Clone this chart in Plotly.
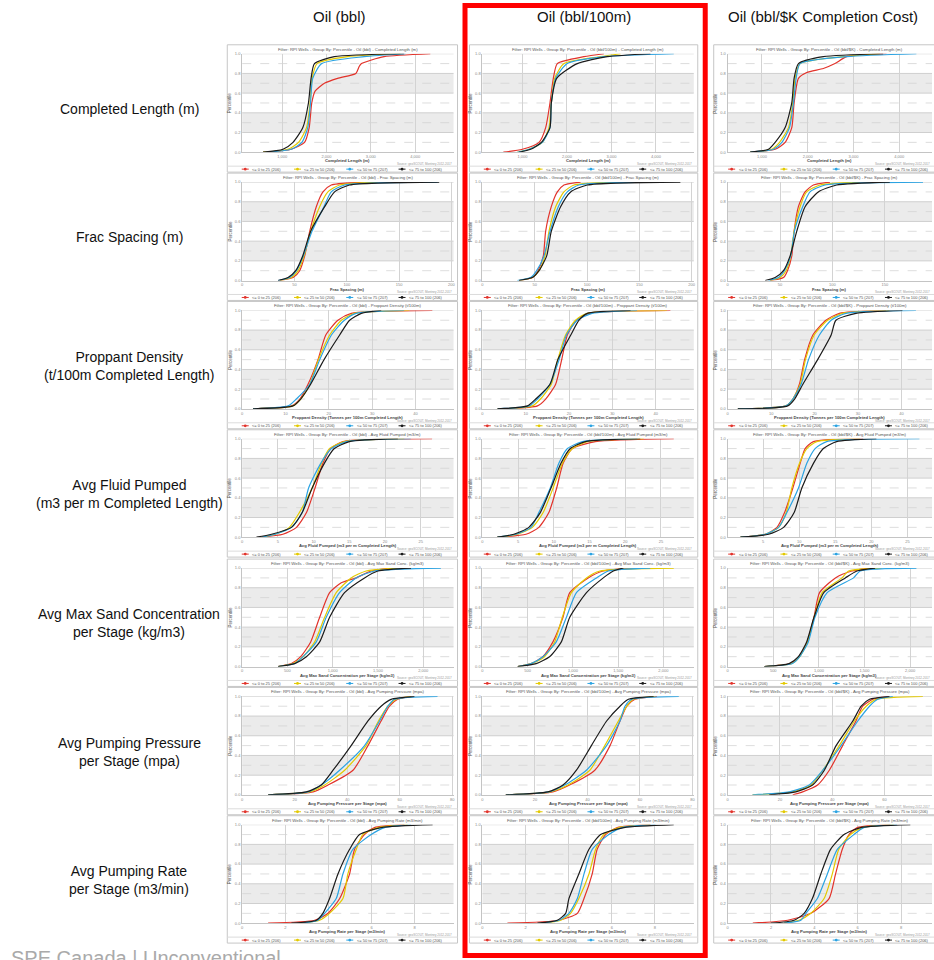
import plotly.graph_objects as go

W, H = 934, 960
FONT = "Liberation Sans, Arial, Helvetica, sans-serif"

# ---------------------------------------------------------------------------
# Labels
# ---------------------------------------------------------------------------
COLUMNS = ["Oil (bbl)", "Oil (bbl/100m)", "Oil (bbl/$K Completion Cost)"]
COLUMNS_SHORT = ["Oil (bbl)", "Oil (bbl/100m)", "Oil (bbl/$K)"]
ROW_LABELS = [
    "Completed Length (m)",
    "Frac Spacing (m)",
    "Proppant Density<br>(t/100m Completed Length)",
    "Avg Fluid Pumped<br>(m3 per m Completed Length)",
    "Avg Max Sand Concentration<br>per Stage (kg/m3)",
    "Avg Pumping Pressure<br>per Stage (mpa)",
    "Avg Pumping Rate<br>per Stage (m3/min)",
]
X_TITLES = [
    "Completed Length (m)",
    "Frac Spacing (m)",
    "Proppant Density (Tonnes per 100m Completed Length)",
    "Avg Fluid Pumped (m3 per m Completed Length)",
    "Avg Max Sand Concentration per Stage (kg/m3)",
    "Avg Pumping Pressure per Stage (mpa)",
    "Avg Pumping Rate per Stage (m3/min)",
]
METRICS_SHORT = [
    "Completed Length (m)",
    "Frac Spacing (m)",
    "Proppant Density (t/100m)",
    "Avg Fluid Pumped (m3/m)",
    "Avg Max Sand Conc. (kg/m3)",
    "Avg Pumping Pressure (mpa)",
    "Avg Pumping Rate (m3/min)",
]
NOTE = "Source: geoSCOUT, Montney 2012-2017"
GROUP_LABELS = ["<= 0 to 25 (206)", "<= 25 to 50 (206)", "<= 50 to 75 (207)", "<= 75 to 100 (206)"]
GROUP_COLORS = ["#e2332b", "#e3c900", "#2ba3e2", "#1b1b1b"]

# cumulative percentile levels at which each curve is sampled
PCT = [0, 0.03, 0.10, 0.25, 0.50, 0.75, 0.90, 0.97, 1.0]

# x tick values per metric row
TICKS_LEN = [1000, 2000, 3000, 4000]
TICKS_FRAC = [0, 50, 100, 150, 200]
TICKS_PROP = [0, 10, 20, 30, 40]
TICKS_FLUID = [0, 5, 10, 15, 20, 25]
TICKS_SAND = [0, 500, 1000, 1500, 2000]
TICKS_PRES = [0, 20, 40, 60, 80]
TICKS_RATE = [0, 2, 4, 6, 8]

# ---------------------------------------------------------------------------
# Cumulative distributions (x value at each PCT level), groups in legend order
# ---------------------------------------------------------------------------
# Completed Length (m)
P_LEN_BBL_RED = [0, 0.03, 0.10, 0.25, 0.50, 0.62, 0.70, 0.75, 0.80, 0.87, 0.90, 0.97, 1.0]
LEN_BBL = [
    [683, 1205, 1505, 1610, 1668, 1743, 1953, 2250, 2662, 2737, 2790, 3297, 4342],
    [570, 1130, 1370, 1550, 1630, 1677, 1787, 2475, 3670],
    [645, 1205, 1445, 1578, 1640, 1690, 1893, 2850, 3780],
    [570, 1020, 1245, 1467, 1593, 1653, 1729, 2176, 3745],
]
LEN_PER100 = [
    [571, 998, 1372, 1521, 1618, 1693, 1783, 2381, 2830],
    [885, 1147, 1446, 1596, 1648, 1723, 1933, 2755, 3204],
    [885, 1147, 1446, 1618, 1648, 1746, 2007, 2830, 4401],
    [923, 1185, 1424, 1618, 1648, 1768, 2232, 2905, 3877],
]
P_LEN_COST_RED = [0, 0.03, 0.10, 0.25, 0.50, 0.75, 0.81, 0.85, 0.90, 0.97, 1.0]
LEN_COST = [
    [746, 1290, 1508, 1653, 1704, 1799, 1980, 2343, 2597, 2851, 3723],
    [746, 1218, 1385, 1581, 1675, 1726, 1835, 2779, 3577],
    [746, 1254, 1436, 1603, 1690, 1748, 1835, 2851, 4376],
    [746, 1145, 1290, 1508, 1653, 1704, 1799, 2343, 3650],
]

# Frac Spacing (m)
FRAC_BBL = [
    [35.9, 48.6, 54.9, 59.7, 64.5, 70.8, 77.2, 85.1, 120.0],
    [35.9, 47.0, 53.4, 59.1, 65.4, 74.0, 81.9, 93.1, 129.6],
    [34.3, 45.4, 51.8, 58.4, 66.7, 78.1, 85.1, 97.8, 186.7],
    [34.3, 43.8, 51.1, 57.8, 65.4, 78.8, 88.3, 102.6, 188.3],
]
FRAC_PER100 = [
    [35.0, 47.7, 53.1, 58.2, 60.4, 65.8, 71.6, 77.9, 93.8],
    [35.0, 47.7, 54.1, 59.8, 63.6, 70.0, 77.9, 87.5, 132.0],
    [33.4, 46.1, 51.8, 58.8, 64.6, 72.5, 81.1, 92.2, 160.6],
    [35.0, 47.7, 54.1, 61.4, 65.8, 74.7, 84.3, 100.2, 189.2],
]
FRAC_COST = [
    [40.6, 53.3, 57.1, 61.2, 63.4, 67.5, 73.9, 81.8, 97.6],
    [40.6, 50.1, 55.8, 60.2, 63.4, 69.1, 75.4, 88.1, 126.2],
    [39.0, 48.5, 54.2, 60.2, 63.7, 71.6, 78.6, 92.9, 186.4],
    [35.8, 45.3, 53.3, 59.6, 65.9, 73.9, 86.5, 104.0, 154.7],
]

# Proppant Density (t/100m)
PROP_BBL = [
    [2.5, 11.4, 13.3, 15.2, 17.5, 19.3, 22.1, 25.2, 43.9],
    [2.5, 11.7, 13.5, 15.6, 17.6, 20.2, 22.9, 25.9, 38.6],
    [2.5, 10.6, 12.5, 15.6, 17.9, 20.6, 23.6, 26.3, 37.4],
    [2.5, 11.7, 13.5, 15.8, 18.9, 22.5, 24.8, 27.5, 32.1],
]
PROP_PER100 = [
    [3.5, 12.7, 14.6, 16.9, 18.3, 19.6, 21.7, 24.6, 43.4],
    [3.5, 11.5, 13.4, 15.9, 17.4, 19.2, 21.5, 24.2, 42.6],
    [3.5, 10.8, 12.7, 15.6, 17.7, 19.4, 21.9, 25.3, 35.7],
    [3.5, 10.4, 12.3, 15.6, 17.4, 20.4, 22.3, 24.2, 34.2],
]
PROP_COST = [
    [2.35, 13.4, 15.0, 16.5, 17.7, 19.6, 22.6, 25.7, 36.4],
    [2.35, 13.4, 15.0, 16.7, 17.9, 19.9, 23.0, 26.4, 37.2],
    [2.35, 13.4, 15.0, 16.9, 18.6, 21.1, 23.8, 27.2, 43.3],
    [2.35, 13.8, 15.4, 17.3, 20.7, 23.8, 24.9, 29.5, 40.2],
]

# Avg Fluid Pumped (m3/m)
FLUID_BBL = [
    [2.7, 5.7, 7.6, 9.0, 10.2, 11.3, 12.4, 14.1, 26.6],
    [2.7, 4.6, 6.6, 8.0, 9.8, 11.1, 12.2, 14.3, 22.7],
    [2.7, 4.6, 6.9, 8.4, 9.3, 11.0, 12.5, 14.6, 23.6],
    [2.0, 4.1, 6.9, 8.4, 9.8, 11.5, 12.9, 15.0, 21.8],
]
FLUID_PER100 = [
    [2.1, 6.1, 7.9, 9.3, 10.4, 11.3, 12.6, 15.8, 26.8],
    [2.1, 4.9, 7.0, 8.5, 9.9, 11.2, 12.6, 14.7, 22.6],
    [2.1, 4.7, 6.8, 7.9, 9.5, 10.7, 11.9, 14.0, 21.7],
    [2.1, 4.4, 6.5, 8.1, 9.6, 11.0, 12.3, 14.4, 22.1],
]
FLUID_COST = [
    [1.88, 5.32, 6.93, 7.98, 9.13, 10.14, 10.83, 11.98, 18.86],
    [1.88, 5.32, 7.16, 8.21, 8.99, 10.05, 11.06, 12.44, 18.40],
    [1.88, 5.32, 7.16, 8.30, 9.91, 11.06, 12.21, 13.81, 26.66],
    [1.88, 5.78, 7.85, 9.31, 10.37, 11.98, 13.35, 15.19, 20.70],
]

# Avg Max Sand Concentration per Stage (kg/m3)
P_SAND_BBL_RED = [0, 0.03, 0.10, 0.25, 0.50, 0.75, 0.85, 0.90, 0.97, 1.0]
SAND_BBL = [
    [397, 544, 646, 757, 856, 966, 1095, 1260, 1425, 1646],
    [397, 562, 672, 801, 911, 1039, 1205, 1370, 1719],
    [397, 580, 672, 819, 929, 1076, 1260, 1462, 2196],
    [397, 580, 709, 856, 966, 1131, 1352, 1499, 1866],
]
SAND_PER100 = [
    [390, 538, 668, 779, 890, 965, 1169, 1336, 1707],
    [390, 538, 686, 798, 883, 983, 1150, 1299, 2115],
    [390, 538, 668, 816, 928, 1039, 1261, 1391, 1855],
    [390, 594, 742, 872, 965, 1150, 1336, 1447, 1558],
]
SAND_COST = [
    [402, 692, 783, 873, 946, 1007, 1181, 1362, 1543],
    [402, 703, 790, 877, 949, 1036, 1254, 1326, 1688],
    [402, 710, 790, 884, 957, 1091, 1380, 1453, 2069],
    [402, 674, 775, 866, 946, 1054, 1290, 1417, 1616],
]

# Avg Pumping Pressure per Stage (mpa)
PRES_BBL = [
    [9.9, 27.0, 32.7, 42.2, 47.9, 52.9, 56.1, 59.2, 64.3],
    [9.9, 25.7, 31.4, 39.0, 47.2, 51.9, 55.5, 58.6, 64.3],
    [9.9, 25.1, 30.1, 37.1, 46.6, 52.3, 55.5, 58.0, 74.4],
    [9.9, 24.4, 30.1, 34.6, 41.5, 47.9, 52.9, 56.7, 65.6],
]
PRES_PER100 = [
    [8.9, 26.8, 33.2, 42.8, 48.6, 52.4, 55.0, 58.1, 66.5],
    [8.9, 25.8, 32.6, 40.9, 46.6, 51.8, 55.0, 57.5, 65.8],
    [8.9, 25.3, 31.3, 39.6, 47.3, 52.4, 54.3, 56.9, 74.8],
    [8.9, 24.9, 30.7, 35.8, 41.5, 47.3, 52.4, 55.6, 65.2],
]
PRES_COST = [
    [24.9, 28.7, 34.4, 38.9, 44.0, 49.1, 51.7, 55.5, 61.9],
    [9.5, 24.9, 31.9, 36.4, 42.7, 48.5, 53.0, 56.8, 74.7],
    [9.5, 23.6, 31.2, 36.4, 43.4, 49.8, 54.3, 57.4, 63.2],
    [15.9, 26.1, 32.5, 37.0, 41.5, 47.9, 51.1, 54.3, 61.9],
]

# Avg Pumping Rate per Stage (m3/min)
RATE_BBL = [
    [1.20, 3.36, 3.98, 4.52, 4.98, 5.21, 5.67, 6.13, 7.52],
    [2.74, 3.59, 4.05, 4.67, 4.90, 5.29, 5.59, 6.29, 7.67],
    [2.74, 3.51, 3.82, 4.36, 4.67, 5.13, 5.98, 6.60, 7.83],
    [2.28, 3.44, 3.74, 4.05, 4.44, 4.98, 5.44, 6.44, 8.83],
]
RATE_PER100 = [
    [1.16, 3.55, 4.40, 4.71, 5.09, 5.32, 5.71, 6.25, 7.79],
    [2.70, 3.63, 4.09, 4.47, 4.94, 5.25, 5.63, 6.33, 7.79],
    [2.70, 3.55, 4.01, 4.40, 4.71, 5.09, 5.86, 6.48, 8.02],
    [2.55, 3.47, 3.86, 4.01, 4.47, 4.94, 5.48, 6.56, 8.87],
]
RATE_COST = [
    [1.16, 2.77, 3.84, 4.68, 4.98, 5.29, 5.60, 5.98, 7.51],
    [2.61, 3.30, 3.84, 4.45, 4.83, 5.13, 5.67, 6.21, 7.66],
    [2.61, 3.38, 3.61, 4.14, 4.60, 5.06, 5.83, 6.28, 7.81],
    [2.00, 3.07, 3.53, 3.91, 4.30, 4.75, 5.37, 6.13, 8.43],
]

PANELS = [
    [LEN_BBL, LEN_PER100, LEN_COST],
    [FRAC_BBL, FRAC_PER100, FRAC_COST],
    [PROP_BBL, PROP_PER100, PROP_COST],
    [FLUID_BBL, FLUID_PER100, FLUID_COST],
    [SAND_BBL, SAND_PER100, SAND_COST],
    [PRES_BBL, PRES_PER100, PRES_COST],
    [RATE_BBL, RATE_PER100, RATE_COST],
]
# curves sampled on their own percentile levels: (row, col, group) -> levels
OWN_PCT = {(0, 0, 0): P_LEN_BBL_RED, (0, 2, 0): P_LEN_COST_RED, (4, 0, 0): P_SAND_BBL_RED}

ROW_TICKS = [TICKS_LEN, TICKS_FRAC, TICKS_PROP, TICKS_FLUID, TICKS_SAND, TICKS_PRES, TICKS_RATE]
X_RANGES = [
    [(100, 4865), (100, 4850), (252, 4717)],
    [(0, 202), (0, 202), (0, 195)],
    [(0, 48.8), (0, 48.8), (0, 47)],
    [(0, 29.6), (0, 29.6), (0.1, 28.4)],
    [(0, 2336), (0, 2336), (0, 2240)],
    [(0, 80.5), (0, 80.5), (0, 78.2)],
    [(0, 9.8), (0, 9.8), (0, 9.43)],
]

# ---------------------------------------------------------------------------
# Page geometry (pixels)
# ---------------------------------------------------------------------------
COL_PLOT = [(242, 454), (483, 695), (729, 934)]
COL_BOX = [(227, 458), (470, 699), (715, 946)]
ROW_TOP = [51, 180, 309, 438, 568, 697, 826]
PLOT_H = 99


def fx(x):
    return x / W


def fy(y):
    return 1 - y / H


fig = go.Figure()
layout = {}
shapes = []
annotations = []

BAND = "#ebebeb"
GRID = "#d3d3d3"
AXIS = "#c4c4c4"

n = 0
for r in range(7):
    top = ROW_TOP[r]
    bot = top + PLOT_H
    for c in range(3):
        n += 1
        sfx = "" if n == 1 else str(n)
        xref, yref = "x" + sfx, "y" + sfx
        left, right = COL_PLOT[c]
        bl, br = COL_BOX[c]

        layout["xaxis" + sfx] = dict(
            domain=[fx(left), fx(right)], range=list(X_RANGES[r][c]), anchor=yref,
            tickvals=ROW_TICKS[r], tickformat=",", tickfont=dict(size=4, color="#8a8a8a", family=FONT),
            showgrid=True, gridcolor=GRID, gridwidth=1, zeroline=False,
            showline=True, linecolor=AXIS, linewidth=1, ticks="", fixedrange=True,
        )
        layout["yaxis" + sfx] = dict(
            domain=[fy(bot), fy(top)], range=[0, 1], anchor=xref,
            tickvals=[0, 0.2, 0.4, 0.6, 0.8, 1.0],
            ticktext=["0.0", "0.2", "0.4", "0.6", "0.8", "1.0"],
            tickfont=dict(size=4, color="#8a8a8a", family=FONT),
            showgrid=False, zeroline=False, showline=True, linecolor=AXIS, linewidth=1,
            ticks="", fixedrange=True,
        )

        dom = xref + " domain"
        for y0, y1 in [(0.2, 0.4), (0.6, 0.8)]:
            shapes.append(dict(type="rect", xref=dom, yref=yref, x0=0, x1=1, y0=y0, y1=y1,
                               fillcolor=BAND, line=dict(width=0), layer="below"))
        for yv in [0.2, 0.4, 0.6, 0.8, 1.0]:
            shapes.append(dict(type="line", xref=dom, yref=yref, x0=0, x1=1, y0=yv, y1=yv,
                               line=dict(color="#cfcfcf", width=1), layer="below"))
        for yv in [0.1, 0.3, 0.5, 0.7, 0.9]:
            shapes.append(dict(type="line", xref=dom, yref=yref, x0=0, x1=1, y0=yv, y1=yv,
                               line=dict(color="#d4d4d4", width=0.8, dash="dash"), layer="below"))

        # panel frame and legend separator
        shapes.append(dict(type="rect", xref="paper", yref="paper", x0=fx(bl), x1=fx(br),
                           y0=fy(bot + 20), y1=fy(top - 9), line=dict(color="#c6c6c6", width=1)))
        shapes.append(dict(type="line", xref="paper", yref="paper", x0=fx(bl), x1=fx(br),
                           y0=fy(bot + 14), y1=fy(bot + 14), line=dict(color="#dcdcdc", width=1)))

        # curves
        for g in range(4):
            xs = PANELS[r][c][g]
            ps = OWN_PCT.get((r, c, g), PCT)
            fig.add_trace(go.Scatter(
                x=xs, y=ps, xaxis=xref, yaxis=yref, mode="lines",
                line=dict(color=GROUP_COLORS[g], width=1.2, shape="spline", smoothing=0.6),
                showlegend=False, hoverinfo="skip",
            ))

        # small texts
        cx = (left + right) / 2
        annotations.append(dict(
            x=fx(cx), y=fy(top - 4.5), xref="paper", yref="paper", showarrow=False,
            text=f"Filter: RPI Wells - Group By: Percentile - {COLUMNS_SHORT[c]} - {METRICS_SHORT[r]}",
            font=dict(size=4.3, color="#555", family=FONT), xanchor="center", yanchor="middle"))
        annotations.append(dict(
            x=fx(left - 12), y=fy((top + bot) / 2), xref="paper", yref="paper", showarrow=False,
            text="Percentile", textangle=-90, font=dict(size=4.5, color="#555", family=FONT),
            xanchor="center", yanchor="middle"))
        annotations.append(dict(
            x=fx(cx), y=fy(bot + 8.8), xref="paper", yref="paper", showarrow=False,
            text=f"<b>{X_TITLES[r]}</b>", font=dict(size=4.2, color="#444", family=FONT),
            xanchor="center", yanchor="middle"))
        annotations.append(dict(
            x=fx(right), y=fy(bot + 12), xref="paper", yref="paper", showarrow=False,
            text=NOTE, font=dict(size=3, color="#9a9a9a", family=FONT), xanchor="right", yanchor="middle"))

        # legend row
        ly = bot + 17
        for g in range(4):
            mx = bl + (0.078 + 0.227 * g) * (br - bl if c < 2 else 231)
            shapes.append(dict(type="line", xref="paper", yref="paper", x0=fx(mx - 3.5), x1=fx(mx + 3.5),
                               y0=fy(ly), y1=fy(ly), line=dict(color=GROUP_COLORS[g], width=1)))
            shapes.append(dict(type="circle", xref="paper", yref="paper", x0=fx(mx - 1.4), x1=fx(mx + 1.4),
                               y0=fy(ly + 1.4), y1=fy(ly - 1.4), fillcolor=GROUP_COLORS[g],
                               line=dict(width=0)))
            annotations.append(dict(
                x=fx(mx + 5), y=fy(ly), xref="paper", yref="paper", showarrow=False,
                text=GROUP_LABELS[g], font=dict(size=4, color="#555", family=FONT),
                xanchor="left", yanchor="middle"))

# column headers
for c, name in enumerate(COLUMNS):
    cx = [340, 585, 825][c]
    annotations.append(dict(x=fx(cx), y=fy(14), xref="paper", yref="paper", showarrow=False,
                            text=name, font=dict(size=15, color="#111", family=FONT),
                            xanchor="center", yanchor="middle"))

# row labels
for r, lab in enumerate(ROW_LABELS):
    cy = ROW_TOP[r] + PLOT_H / 2 + 6
    annotations.append(dict(x=fx(128.5), y=fy(cy), xref="paper", yref="paper", showarrow=False,
                            text=lab, font=dict(size=14, color="#111", family=FONT),
                            xanchor="center", yanchor="middle", align="center"))

# footer
annotations.append(dict(x=fx(8), y=fy(947), xref="paper", yref="paper", showarrow=False,
                        text="SPE Canada | Unconventional", font=dict(size=20, color="#aaaaaa", family=FONT),
                        xanchor="left", yanchor="top"))

# highlight frame around the middle column
shapes.append(dict(type="rect", xref="paper", yref="paper", x0=fx(465.5), x1=fx(706.5),
                   y0=fy(957.5), y1=fy(2.5), line=dict(color="#ff0000", width=5), layer="above"))

fig.update_layout(
    width=W, height=H, margin=dict(l=0, r=0, t=0, b=0),
    paper_bgcolor="white", plot_bgcolor="white", showlegend=False,
    font=dict(family=FONT), shapes=shapes, annotations=annotations, **layout,
)

fig.write_html("out.html", config={"displayModeBar": False},
               post_script="document.body.style.margin='0';")
